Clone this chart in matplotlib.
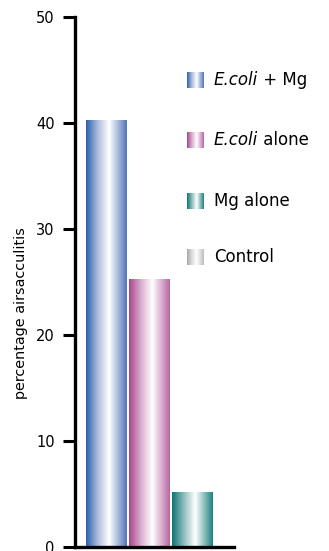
import matplotlib
matplotlib.use("Agg")
import matplotlib.pyplot as plt
import numpy as np
from matplotlib.colors import LinearSegmentedColormap

plt.rcParams["font.family"] = ["DejaVu Sans"]

groups = ["E.coli + Mg", "E.coli alone", "Mg alone", "Control"]
values = [40.2, 25.2, 5.1, 0]
# (dark left edge, light, right edge)
shades = [
    ("#2a60aa", "#b4bfe0", "#5273b8"),
    ("#a8458f", "#dcb0cf", "#b866a3"),
    ("#0c7575", "#92c0be", "#1d817f"),
    ("#a8a8a8", "#dedede", "#bdbdbd"),
]
yticks = [0, 10, 20, 30, 40, 50]


def make_cmap(dark, light, edge):
    return LinearSegmentedColormap.from_list(
        "g", [(0, dark), (0.3, light), (0.57, "white"), (1, edge)]
    )


W, H = 329, 551
fig = plt.figure(figsize=(W / 100, H / 100), dpi=100)
ax = fig.add_axes([75 / W, 4 / H, 159 / W, 530 / H])

grad = np.linspace(0, 1, 256).reshape(1, -1)
width = 41 / 43
x = np.arange(len(groups))
bars = ax.bar(x, values, width=width, color="none", edgecolor="none")
for b, sh in zip(bars, shades):
    if b.get_height() <= 0:
        continue
    x0, y0 = b.get_x(), b.get_y()
    ax.imshow(
        grad,
        cmap=make_cmap(*sh),
        aspect="auto",
        extent=(x0, x0 + b.get_width(), y0, y0 + b.get_height()),
        zorder=2,
    )

ax.set_xlim(-0.733, -0.733 + 159 / 43)
ax.set_ylim(0, 50)
ax.set_yticks(yticks)
ax.set_xticks([])
for s in ["top", "right"]:
    ax.spines[s].set_visible(False)
ax.spines["left"].set_linewidth(2.4)
ax.spines["bottom"].set_linewidth(2.4)
ax.tick_params(axis="y", length=8.5, width=2.2, pad=6, labelsize=10.5, colors="black")

fig.text(21 / W, 1 - 313 / H, "percentage airsacculitis", rotation=90,
         ha="center", va="center", fontsize=10.4)

# legend
ys = [80, 140, 201, 257]
fs = 12
for name, sh, yc in zip(groups, shades, ys):
    lax = fig.add_axes([187 / W, 1 - (yc + 8) / H, 17 / W, 16 / H])
    lax.imshow(grad, cmap=make_cmap(*sh), aspect="auto")
    lax.axis("off")
    if name.startswith("E.coli"):
        t = fig.text(214 / W, 1 - yc / H, "E.coli", style="italic",
                     va="center", fontsize=fs)
        ax.annotate(name[len("E.coli"):], xy=(1, 0.5), xycoords=t,
                    va="center", ha="left", fontsize=fs)
    else:
        fig.text(214 / W, 1 - yc / H, name, va="center", fontsize=fs)

fig.savefig("out.png", dpi=100)
